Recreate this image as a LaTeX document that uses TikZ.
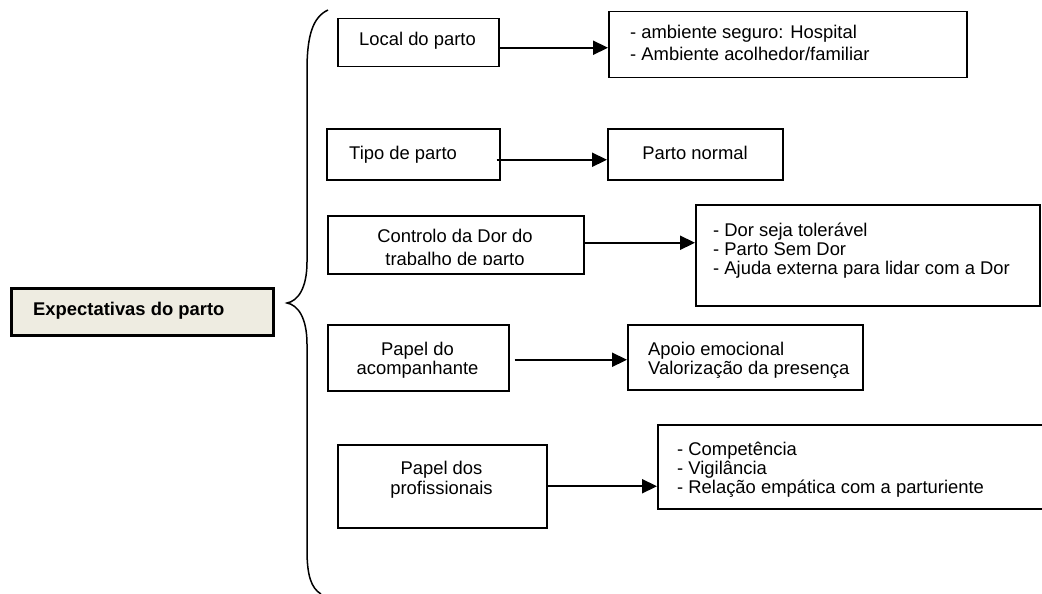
\documentclass[tikz,border=0pt]{standalone}
\usepackage{fontspec}
\setmainfont{Liberation Sans}
\usetikzlibrary{arrows.meta}
\definecolor{boxfill}{RGB}{238,236,225}
\begin{document}
\begin{tikzpicture}[x=1pt,y=-1pt,
  box/.style={draw, line width=1.5pt, inner sep=0pt, anchor=north west},
  mainbox/.style={draw, line width=2.6pt, fill=boxfill, inner sep=0pt, anchor=north west},
  txt/.style={inner sep=0pt, font=\fontsize{18.4}{22}\selectfont},
  tight/.style={inner sep=0pt, font=\fontsize{18.4}{19}\selectfont},
  link/.style={line width=2.2pt, -{Triangle[length=15pt,width=14pt]}},
  brace/.style={line width=1.5pt}]
\useasboundingbox (0,0) rectangle (1042,594);

% root box
\node[mainbox, minimum width=262pt, minimum height=47pt] (root) at (10,287) {};
\node[txt, anchor=base west] (roott) at (33,315) {\bfseries Expectativas do parto};

% curly brace
\draw[brace] (328,10) .. controls (313,17) and (307,35) .. (307,70)
  -- (307,262) .. controls (307,288) and (298,301) .. (287,303)
  .. controls (298,305) and (307,318) .. (307,344)
  -- (307,550) .. controls (307,575) and (311,588) .. (321,594);

% left column (multi-line texts are anchored at the baseline of their last line)
\node[box, minimum width=161pt, minimum height=48pt] (loc) at (337,18) {};
\node[txt, anchor=base] (loct) at (417.5,46) {Local do parto};

\node[box, minimum width=173pt, minimum height=51pt] (tipo) at (326,128) {};
\node[txt, anchor=base west] (tipot) at (349,159) {Tipo de parto};

\node[box, minimum width=256pt, minimum height=58pt] (dor) at (327,215) {};
\begin{scope}
  \clip (327,215) rectangle (583,264);
  \node[txt, anchor=base, align=center] (dort) at (455,265) {Controlo da Dor do\\[1pt]trabalho de parto};
\end{scope}

\node[box, minimum width=181pt, minimum height=66pt] (acomp) at (327,324) {};
\node[tight, anchor=base, align=center] (acompt) at (417.5,374) {Papel do\\acompanhante};

\node[box, minimum width=209pt, minimum height=83pt] (prof) at (337,444) {};
\node[tight, anchor=base, align=center] (proft) at (441.5,494) {Papel dos\\[1pt]profissionais};

% right column
\node[box, minimum width=358pt, minimum height=66pt] (r1) at (608,11) {};
\node[txt, anchor=base west, align=left] (r1t) at (630,61) {- ambiente seguro: Hospital\\- Ambiente acolhedor/familiar};

\node[box, minimum width=175pt, minimum height=51pt] (r2) at (607,128) {};
\node[txt, anchor=base] (r2t) at (695,159) {Parto normal};

\node[box, minimum width=344pt, minimum height=101pt] (r3) at (695,204) {};
\node[tight, anchor=base west, align=left] (r3t) at (713,274) {- Dor seja tolerável\\- Parto Sem Dor\\- Ajuda externa para lidar com a Dor};

\node[box, minimum width=235pt, minimum height=65pt] (r4) at (627,324) {};
\node[tight, anchor=base west, align=left] (r4t) at (648,374) {Apoio emocional\\Valorização da presença};

\node[box, minimum width=400pt, minimum height=84pt] (r5) at (657,424) {};
\node[tight, anchor=base west, align=left] (r5t) at (677,493) {- Competência\\- Vigilância\\- Relação empática com a parturiente};

% connectors
\draw[link] ([yshift=-5pt]loc.east) -- ([yshift=-5pt]loc.east -| r1.west);
\draw[link] ([yshift=-5.5pt,xshift=-4pt]tipo.east) -- ([yshift=-5.5pt]tipo.east -| r2.west);
\draw[link] ([yshift=2pt]dor.east) -- ([yshift=2pt]dor.east -| r3.west);
\draw[link] ([yshift=-2pt,xshift=5pt]acomp.east) -- ([yshift=-2pt]acomp.east -| r4.west);
\draw[link] (prof.east) -- (prof.east -| r5.west);
\end{tikzpicture}
\end{document}
